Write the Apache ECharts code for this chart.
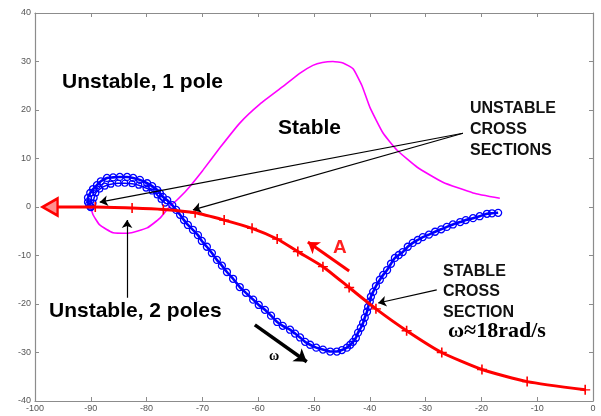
<!DOCTYPE html>
<html>
<head>
<meta charset="utf-8">
<script src="https://cdn.jsdelivr.net/npm/echarts@6/dist/echarts.min.js"></script>
<style>
  html, body { margin: 0; padding: 0; background: #fff; }
  #chart { width: 601px; height: 416px; }
</style>
</head>
<body>
<div id="chart"></div>
<script>
// red curve (A sweep), + markers, last point is the arrow tip
var redPoints = [
  [-1.4, -37.7], [-11.8, -36], [-19.9, -33.5], [-27.1, -30], [-33.4, -25.5],
  [-38.9, -21], [-43.7, -16.6], [-48.4, -12.3], [-52.9, -9.2], [-56.6, -6.6],
  [-61.1, -4.4], [-66.1, -2.7], [-71.3, -1.2], [-77, -0.5], [-82.6, -0.2],
  [-89.2, 0], [-97.3, 0]
];

// blue curve (omega sweep), circle markers
var bluePoints = [
  [-17.0, -1.2], [-18.1, -1.3], [-19.0, -1.4], [-20.3, -1.9], [-21.5, -2.3],
  [-22.8, -2.7], [-23.8, -3.1], [-25.1, -3.6], [-26.2, -4.1], [-27.2, -4.6],
  [-28.3, -5.1], [-29.4, -5.7], [-30.5, -6.2], [-31.4, -6.8], [-32.3, -7.4],
  [-33.2, -8.2], [-34.1, -9.3], [-34.8, -9.9], [-35.5, -10.5], [-36.2, -11.7],
  [-36.9, -13.0], [-37.6, -14.0], [-38.2, -15.0], [-38.9, -16.3], [-39.4, -17.5],
  [-39.8, -18.5], [-40.0, -19.5], [-40.3, -20.6], [-40.5, -21.6], [-40.9, -22.8],
  [-41.2, -23.9], [-41.6, -24.9], [-42.1, -25.9], [-42.5, -27.0], [-43.0, -27.8],
  [-43.5, -28.4], [-44.1, -29.0], [-45.0, -29.5], [-45.9, -29.8], [-47.1, -29.8],
  [-48.4, -29.4], [-49.6, -29.0], [-50.7, -28.4], [-51.6, -27.8], [-52.5, -26.9],
  [-53.4, -26.1], [-54.3, -25.3], [-55.6, -24.5], [-56.6, -23.7], [-57.7, -22.4],
  [-58.8, -21.2], [-59.9, -20.2], [-60.9, -19.1], [-62.2, -17.7], [-63.3, -16.5],
  [-64.5, -14.8], [-65.6, -13.4], [-66.5, -12.1], [-67.4, -10.9], [-68.3, -9.5],
  [-69.2, -8.2], [-70.1, -7.0], [-70.8, -5.8], [-71.7, -4.7], [-72.6, -3.7],
  [-73.3, -2.7], [-74.0, -1.6], [-74.7, -0.6], [-75.4, 0.4], [-76.3, 1.4],
  [-77.1, 2.1], [-77.6, 2.8], [-78.1, 3.5], [-79.0, 4.3], [-79.9, 4.9],
  [-81.2, 5.6], [-82.4, 6.0], [-83.5, 6.2], [-84.8, 6.2], [-86.0, 6.1],
  [-87.1, 6.0], [-88.2, 5.3], [-88.9, 4.5], [-89.6, 3.7], [-90.1, 2.9],
  [-90.5, 1.9], [-90.5, 1.0], [-90.3, 0.5], [-90.1, 0.1], [-90.0, 0]
];

// inner row of circles in the loop
var blueLoopInner = [
  [-76.7, 0.8], [-77.4, 1.6], [-78.1, 2.5], [-79.0, 3.3], [-80.1, 3.9],
  [-81.4, 4.5], [-82.6, 4.8], [-83.9, 4.9], [-85.1, 4.9], [-86.4, 4.7],
  [-87.5, 4.3], [-88.4, 3.7], [-89.1, 2.9], [-89.4, 1.9], [-89.6, 0.8]
];

// magenta boundary curve
var magentaPoints = [
  [-16.7, 1.8], [-21.5, 2.9], [-26.9, 5.1], [-31.5, 8.2], [-35.1, 11.7],
  [-37.6, 15.2], [-40.0, 20.6], [-41.4, 25.0], [-43.0, 28.5], [-44.8, 29.7],
  [-46.6, 30.0], [-48.5, 29.8], [-50.2, 29.2], [-52.5, 27.6], [-55.6, 24.8],
  [-59.7, 21.2], [-63.3, 17.3], [-66.8, 12.3], [-69.9, 7.6], [-72.8, 3.5],
  [-74.6, 1.4], [-75.8, 0.2], [-77.6, -2.3], [-79.9, -4.3], [-83.3, -5.4],
  [-86.0, -5.3], [-88.4, -3.7], [-89.6, -1.6], [-90.0, 0]
];

// annotation arrows [from, to]
var blackArrows = [
  [[-23.3, 15.2], [-88.4, 1.0]],
  [[-23.3, 15.2], [-71.7, -0.6]],
  [[-83.5, -18.7], [-83.5, -2.7]],
  [[-28.0, -17.1], [-38.5, -19.8]]
];
var omegaArrow = [[-60.6, -24.3], [-51.3, -31.9]];
var aArrow = [[-43.7, -13.2], [-51.1, -7.2]];

var chart = echarts.init(document.getElementById('chart'));

var plusPath = 'path://M4.2,0 H5.8 V10 H4.2 Z M0,4.3 H10 V5.7 H0 Z';

var redData = redPoints.map(function (p, i) {
  if (i === redPoints.length - 1) {
    return {
      value: p, symbol: 'triangle', symbolRotate: 90, symbolSize: [17, 15],
      itemStyle: { color: '#ff9090', borderColor: '#ff0000', borderWidth: 2.5 }
    };
  }
  return { value: p };
});

function axisCommon(pos, showLabel) {
  return {
    type: 'value',
    position: pos,
    axisLine: { show: true, onZero: false, lineStyle: { color: '#8c8c8c', width: 1.2 } },
    axisTick: { show: true, inside: true, length: 4, lineStyle: { color: '#8c8c8c' } },
    axisLabel: { show: showLabel, fontSize: 9, color: '#555', fontFamily: 'Liberation Sans', margin: 3 },
    splitLine: { show: false }
  };
}

var xb = axisCommon('bottom', true), xt = axisCommon('top', false);
var yl = axisCommon('left', true), yr = axisCommon('right', false);
[xb, xt].forEach(function (a) { a.min = -100; a.max = 0; a.interval = 10; });
[yl, yr].forEach(function (a) { a.min = -40; a.max = 40; a.interval = 10; });
yl.axisLabel.margin = 4;

var option = {
  animation: false,
  backgroundColor: '#fff',
  grid: { left: 35, right: 8, top: 13, bottom: 15 },
  xAxis: [xb, xt],
  yAxis: [yl, yr],
  series: [
    {
      type: 'line', data: magentaPoints, smooth: 0.15, showSymbol: false, symbol: 'none',
      lineStyle: { color: '#ff00ff', width: 1.6 }, z: 2
    },
    {
      type: 'line', data: bluePoints, smooth: 0.2, symbol: 'circle', symbolSize: 7,
      lineStyle: { color: '#0000ff', width: 2.6 },
      itemStyle: { color: 'rgba(0,0,0,0)', borderColor: '#0000ff', borderWidth: 1.3 }, z: 3
    },
    {
      type: 'line', data: blueLoopInner, smooth: 0.3, symbol: 'circle', symbolSize: 6,
      lineStyle: { color: '#0000ff', width: 1.5 },
      itemStyle: { color: 'rgba(0,0,0,0)', borderColor: '#0000ff', borderWidth: 1.2 }, z: 3
    },
    {
      type: 'line', data: redData, smooth: 0.2, symbol: plusPath, symbolSize: 10,
      lineStyle: { color: '#ff0000', width: 3 },
      itemStyle: { color: '#ff0000' }, z: 4
    },
    {
      type: 'lines', coordinateSystem: 'cartesian2d', z: 5,
      symbol: ['none', 'arrow'], symbolSize: 8,
      lineStyle: { color: '#000', width: 1.2, opacity: 1 },
      data: blackArrows.map(function (c) { return { coords: c }; })
    },
    {
      type: 'lines', coordinateSystem: 'cartesian2d', z: 5,
      symbol: ['none', 'arrow'], symbolSize: 12,
      lineStyle: { color: '#000', width: 3.5, opacity: 1 },
      data: [{ coords: omegaArrow }]
    },
    {
      type: 'lines', coordinateSystem: 'cartesian2d', z: 5,
      symbol: ['none', 'arrow'], symbolSize: 11,
      lineStyle: { color: '#ff0000', width: 3, opacity: 1 },
      data: [{ coords: aArrow }]
    }
  ],
  graphic: [
    { type: 'text', x: 62, y: 82, z: 10, style: { text: 'Unstable, 1 pole', font: 'bold 21px "Liberation Sans"', fill: '#000', verticalAlign: 'middle' } },
    { type: 'text', x: 278, y: 128, z: 10, style: { text: 'Stable', font: 'bold 21px "Liberation Sans"', fill: '#000', verticalAlign: 'middle' } },
    { type: 'text', x: 49, y: 311, z: 10, style: { text: 'Unstable, 2 poles', font: 'bold 21px "Liberation Sans"', fill: '#000', verticalAlign: 'middle' } },
    { type: 'text', x: 470, y: 98, z: 10, style: { text: 'UNSTABLE\nCROSS\nSECTIONS', font: 'bold 16px "Liberation Sans"', lineHeight: 21, fill: '#111', verticalAlign: 'top' } },
    { type: 'text', x: 443, y: 261, z: 10, style: { text: 'STABLE\nCROSS\nSECTION', font: 'bold 16px "Liberation Sans"', lineHeight: 20.5, fill: '#111', verticalAlign: 'top' } },
    { type: 'text', x: 448, y: 331, z: 10, style: { text: 'ω≈18rad/s', font: 'bold 22px "Liberation Serif"', fill: '#000', verticalAlign: 'middle' } },
    { type: 'text', x: 269, y: 356, z: 10, style: { text: 'ω', font: 'bold 14px "Liberation Serif"', fill: '#000', verticalAlign: 'middle' } },
    { type: 'text', x: 333, y: 248, z: 10, style: { text: 'A', font: 'bold 19px "Liberation Sans"', fill: '#ff2020', verticalAlign: 'middle' } }
  ]
};

chart.setOption(option);
</script>
</body>
</html>
